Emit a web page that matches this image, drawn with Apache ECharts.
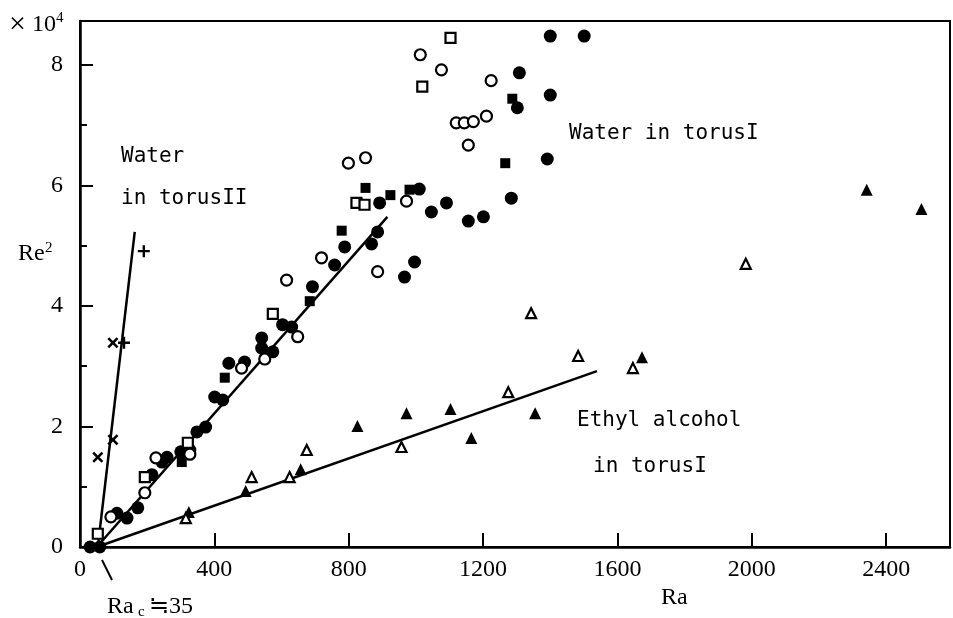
<!DOCTYPE html>
<html>
<head>
<meta charset="utf-8">
<script src="https://cdn.jsdelivr.net/npm/echarts@6/dist/echarts.min.js"></script>
<style>
html, body { margin: 0; padding: 0; background: #fff; }
#chart { width: 953px; height: 618px; }
</style>
</head>
<body>
<div id="chart"></div>
<script>
// Ra on x, Re^2 (x10^4) on y
const xTicks = [0, 400, 800, 1200, 1600, 2000, 2400]
const yTicks = [0, 2, 4, 6, 8]

// water in torus I
const filledCircles = [
  [1400, 8.48], [1501, 8.48], [1308, 7.87], [1400, 7.50], [1302, 7.29], [1391, 6.44],
  [1284, 5.79], [1010, 5.94], [1091, 5.71], [1046, 5.56], [1156, 5.41], [1201, 5.48],
  [996, 4.73], [966, 4.48], [892, 5.71], [886, 5.23], [868, 5.03], [788, 4.98],
  [758, 4.68], [692, 4.32], [603, 3.69], [630, 3.65], [541, 3.47], [541, 3.30],
  [574, 3.24], [490, 3.07], [443, 3.05], [401, 2.49], [425, 2.44], [348, 1.91],
  [374, 1.99], [300, 1.58], [327, 1.61], [259, 1.49], [244, 1.41], [214, 1.20],
  [172, 0.65], [140, 0.48], [110, 0.56], [30, 0], [59, 0]
]
const filledSquares = [
  [1287, 7.44], [1266, 6.37], [850, 5.96], [924, 5.84], [981, 5.93], [779, 5.25],
  [684, 4.08], [431, 2.81], [303, 1.41]
]
const openCircles = [
  [1013, 8.17], [1076, 7.92], [1224, 7.74], [1210, 7.15], [1120, 7.04], [1144, 7.04],
  [1171, 7.06], [1156, 6.67], [799, 6.37], [850, 6.46], [972, 5.74], [719, 4.80],
  [886, 4.57], [615, 4.43], [648, 3.49], [550, 3.12], [481, 2.97], [327, 1.54],
  [226, 1.48], [193, 0.90], [92, 0.50]
]
const openSquares = [
  [1103, 8.45], [1019, 7.64], [823, 5.71], [847, 5.68], [574, 3.87], [321, 1.73],
  [193, 1.16], [53, 0.22]
]
// ethyl alcohol in torus I
const filledTriangles = [
  [2342, 5.93], [2505, 5.61], [1673, 3.15], [1355, 2.22], [1165, 1.81], [1103, 2.29],
  [972, 2.22], [826, 2.01], [657, 1.29], [493, 0.93], [324, 0.58]
]
const openTriangles = [
  [1982, 4.70], [1646, 2.97], [1483, 3.17], [1343, 3.88], [1275, 2.57], [957, 1.66],
  [675, 1.61], [624, 1.16], [511, 1.16], [315, 0.48]
]
// water in torus II
const crosses = [[98, 3.39], [98, 1.78], [53, 1.49]]
const pluses = [[190, 4.91], [131, 3.39]]

// fitted lines
const lineWaterI = [[50, 0], [915, 5.48]]
const lineWaterII = [[53, 0], [163, 5.23]]
const lineEthyl = [[50, 0], [1539, 2.92]]

const chart = echarts.init(document.getElementById('chart'))

// filled plus shape, rotated 45deg it gives the cross
const plusPath = 'path://M4,0L6,0L6,4L10,4L10,6L6,6L6,10L4,10L4,6L0,6L0,4L4,4Z'

function pts (data, symbol, size, filled, rot) {
  return {
    type: 'scatter',
    data: data,
    symbol: symbol,
    symbolSize: size,
    symbolRotate: rot || 0,
    z: 3,
    itemStyle: {
      color: filled ? '#000' : '#fff',
      borderColor: '#000',
      borderWidth: filled ? 0 : 2.2,
      opacity: 1
    },
    emphasis: { disabled: true }
  }
}

function fit (data) {
  return {
    type: 'line',
    data: data,
    showSymbol: false,
    z: 2,
    lineStyle: { color: '#000', width: 2.5 },
    emphasis: { disabled: true }
  }
}

function txt (text, x, y, size, family) {
  return {
    type: 'text',
    x: x,
    y: y,
    style: {
      text: text,
      fontSize: size,
      fontFamily: family || '"Liberation Serif", serif',
      fill: '#000',
      align: 'left',
      verticalAlign: 'middle'
    }
  }
}

const mono = '"DejaVu Sans Mono", monospace'

const option = {
  animation: false,
  backgroundColor: '#fff',
  grid: {
    left: 80, top: 21, right: 1, bottom: 71,
    show: true, borderColor: '#000', borderWidth: 2
  },
  xAxis: {
    type: 'value',
    min: 0,
    max: 2590,
    interval: 400,
    splitLine: { show: false },
    axisLine: { lineStyle: { color: '#000', width: 2.5 } },
    axisTick: { inside: true, length: 14, lineStyle: { color: '#000', width: 2 } },
    axisLabel: {
      color: '#000',
      fontSize: 24,
      fontFamily: '"Liberation Serif", serif',
      margin: 11,
      formatter: v => (xTicks.includes(v) ? String(v) : '')
    }
  },
  yAxis: {
    type: 'value',
    min: 0,
    max: 8.73,
    interval: 2,
    splitLine: { show: false },
    axisLine: { lineStyle: { color: '#000', width: 2.5 } },
    axisTick: { inside: true, length: 13, lineStyle: { color: '#000', width: 2 } },
    minorTick: { show: true, splitNumber: 2, length: 7, lineStyle: { color: '#000', width: 2 } },
    axisLabel: {
      color: '#000',
      fontSize: 24,
      fontFamily: '"Liberation Serif", serif',
      margin: 17,
      formatter: v => (yTicks.includes(v) ? String(v) : '')
    }
  },
  series: [
    fit(lineWaterI),
    fit(lineWaterII),
    fit(lineEthyl),
    pts(filledCircles, 'circle', 13, true),
    pts(filledSquares, 'rect', 10, true),
    pts(openCircles, 'circle', 11, false),
    pts(openSquares, 'rect', 10, false),
    pts(filledTriangles, 'triangle', 12, true),
    pts(openTriangles, 'triangle', 10, false),
    pts(crosses, plusPath, 13, true, 45),
    pts(pluses, plusPath, 12, true)
  ],
  graphic: [
    txt('×', 9, 25, 30),
    txt('10', 32, 25, 24),
    txt('4', 56, 18, 15),
    txt('Re', 18, 254, 24),
    txt('2', 45, 248, 15),
    txt('Ra', 661, 598, 24),
    txt('Ra', 107, 607, 24),
    txt('c', 138, 612, 15),
    txt('≒35', 149, 607, 24),
    {
      type: 'line',
      shape: { x1: 102, y1: 560, x2: 112, y2: 580 },
      style: { stroke: '#000', lineWidth: 2 }
    },
    txt('Water', 121, 157, 21, mono),
    txt('in torusII', 121, 199, 21, mono),
    txt('Water in torusI', 569, 134, 21, mono),
    txt('Ethyl alcohol', 577, 421, 21, mono),
    txt('in torusI', 593, 467, 21, mono)
  ]
}

chart.setOption(option)
</script>
</body>
</html>
